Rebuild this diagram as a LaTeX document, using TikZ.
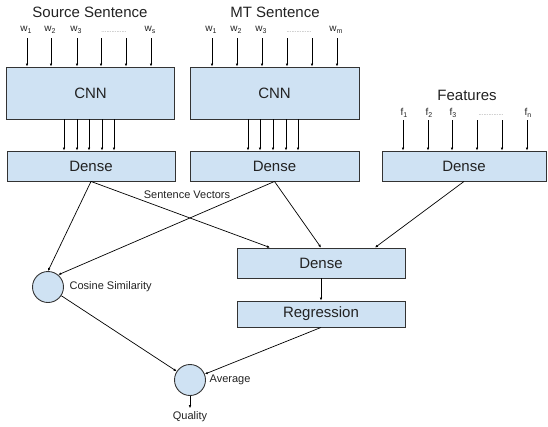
\documentclass[tikz,border=0pt]{standalone}
\usepackage{fontspec}
\setmainfont{Liberation Sans}
\usetikzlibrary{arrows.meta}
\definecolor{boxblue}{HTML}{CFE2F3}
\definecolor{edgegray}{HTML}{333333}
\definecolor{ink}{HTML}{222222}
\tikzset{
  layer/.style={draw=edgegray, fill=boxblue, line width=0.9pt, minimum height=30pt, inner sep=0pt, text=ink, font=\fontsize{15}{18}\selectfont},
  unit/.style={circle, draw=edgegray, fill=boxblue, line width=0.9pt, minimum size=31pt, inner sep=0pt},
  heading/.style={text=ink, font=\fontsize{15}{18}\selectfont},
  small/.style={text=ink, font=\fontsize{11}{13}\selectfont},
  tok/.style={text=ink, inner sep=1pt, font=\fontsize{10}{11}\selectfont},
  gap/.style={text=gray, inner sep=0pt, font=\fontsize{6}{7}\selectfont},
}
\newcommand{\tokn}[2]{#1\raisebox{-2.5pt}{\fontsize{7}{8}\selectfont #2}}
\begin{document}
\begin{tikzpicture}[x=1pt, y=-1pt, line width=0.7pt]
	\tikzset{>={Latex[length=3pt,width=2.6pt]}}
	\useasboundingbox (0,0) rectangle (548,426);
	% encoders
	\node[layer, minimum width=168pt, minimum height=52pt] (srccnn) at (90.5,93) {CNN};
	\node[layer, minimum width=169pt, minimum height=52pt] (mtcnn) at (274.5,93) {CNN};
	\node[layer, minimum width=168pt] (srcdense) at (91,166) {Dense};
	\node[layer, minimum width=169pt] (mtdense) at (274.5,166) {Dense};
	\node[layer, minimum width=164pt] (featdense) at (464,166) {Dense};
	\node[layer, minimum width=168pt] (dense) at (321,263) {Dense};
	\node[layer, minimum width=168pt, minimum height=26pt] (regr) at (321,314) {Regression};
	\node[unit] (cos) at (48,287) {};
	\node[unit] (avg) at (190,380) {};
	% titles
	\node[heading] (srctitle) at (90,12) {Source Sentence};
	\node[heading] (mttitle) at (275,12) {MT Sentence};
	\node[heading] (feattitle) at (467,95) {Features};
	% inputs
	\foreach \x [count=\i] in {27,51,77,101,126,151} {
		\coordinate (s\i) at (\x,38);
		\draw[->] (s\i) -- (s\i |- srccnn.north);
	}
	\foreach \x [count=\i] in {212,237,262,287,312,337} {
		\coordinate (m\i) at (\x,38);
		\draw[->] (m\i) -- (m\i |- mtcnn.north);
	}
	\foreach \x [count=\i] in {403,428,452,477,502,527} {
		\coordinate (f\i) at (\x,120);
		\draw[->] (f\i) -- (f\i |- featdense.north);
	}
	\foreach \x/\t in {27/1,51/2,77/3,151/s}
		\node[tok] (sw\t) at (\x-1,30) {\tokn{w}{\t}};
	\foreach \x/\t in {212/1,237/2,262/3,337/m}
		\node[tok] (mw\t) at (\x-1,30) {\tokn{w}{\t}};
	\foreach \x/\t in {403/1,428/2,452/3,527/n}
		\node[tok] (fv\t) at (\x+1,113) {\tokn{f}{\t}};
	\node[gap] (sdots) at (114,32) {...............};
	\node[gap] (mdots) at (299,32) {...............};
	\node[gap] (fdots) at (491,115) {...............};
	% cnn to dense
	\foreach \x [count=\i] in {64,77,89,102,114} {
		\coordinate (sc\i) at (\x,0);
		\draw[->] (sc\i |- srccnn.south) -- (sc\i |- srcdense.north);
	}
	\foreach \x [count=\i] in {248,260,273,286,298} {
		\coordinate (mc\i) at (\x,0);
		\draw[->] (mc\i |- mtcnn.south) -- (mc\i |- mtdense.north);
	}
	% sentence vectors
	\draw[->] (srcdense.south) -- (cos.north);
	\draw[->] (srcdense.south) -- ([xshift=-51pt]dense.north);
	\draw[->] (mtdense.south) -- (cos.50);
	\draw[->] (mtdense.south) -- (dense.north);
	\draw[->] (featdense.south) -- ([xshift=54pt]dense.north);
	\node[small] (sv) at (187,195) {Sentence Vectors};
	\draw[->] (dense) -- (regr);
	% output
	\draw[->] (cos) -- (avg);
	\draw[->] (regr.south) -- (avg);
	\node[small, anchor=west] (coslbl) at (66,287) {Cosine Similarity};
	\node[small, anchor=west] (avglbl) at (206,380) {Average};
	\node[small] (quality) at (190,417) {Quality};
	\draw[->] (avg.south) -- (quality.north);
\end{tikzpicture}
\end{document}
